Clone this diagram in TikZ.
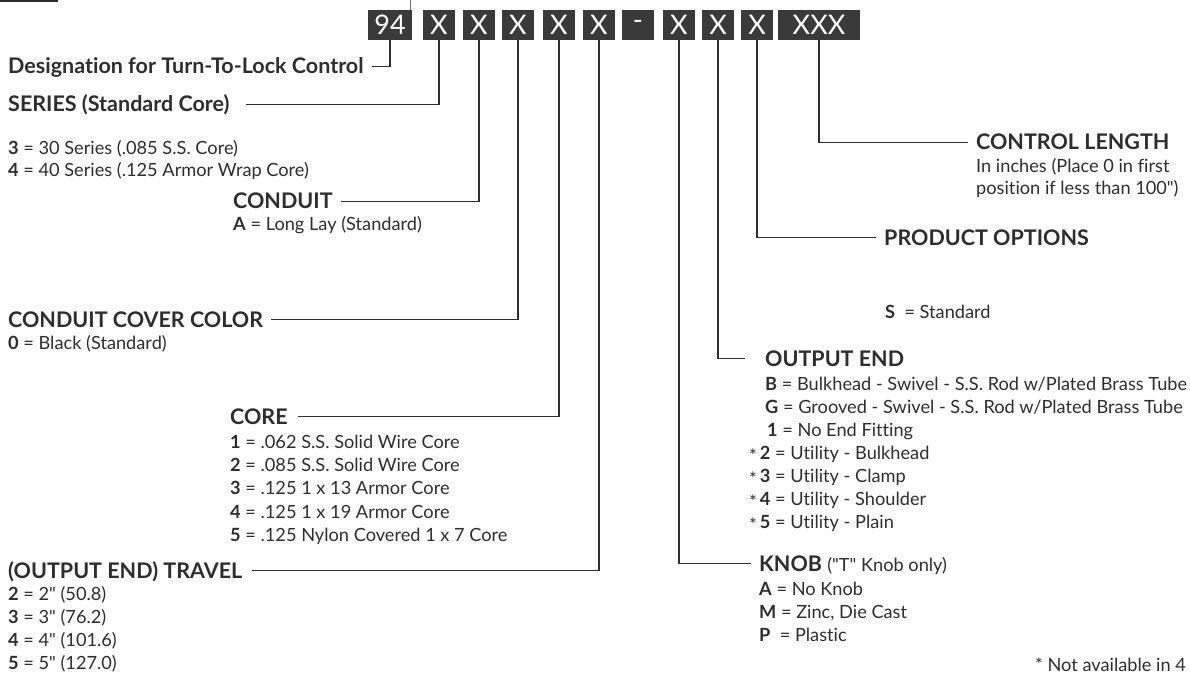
\documentclass[tikz,border=0pt]{standalone}
\usepackage{fontspec}
\setmainfont{Lato}[Ligatures={TeXOff,CommonOff}]
\definecolor{ink}{HTML}{2E2E2E}
\definecolor{boxc}{HTML}{3A3A3A}
\newcommand\mkline[5]{\node[#1] (#2) at (#3,#4) {#5};}
\newcommand\st{\raisebox{-3pt}{*}\,}
\newcommand\bodyf{\fontsize{18.2}{23}\selectfont}
\tikzset{
  hd/.style={font=\bfseries\fontsize{21.5}{26}\selectfont, text=ink, inner sep=0pt, anchor=base west, text height=15pt, text depth=0pt},
  tx/.style={font=\bodyf, text=ink, inner sep=0pt, anchor=base west},
  cbox/.style={fill=boxc, text=white, font=\fontsize{27}{27}\selectfont, minimum height=30pt, inner sep=0pt},
  conn/.style={draw=ink, line width=1.6pt},
}
\begin{document}
\begin{tikzpicture}[x=1pt,y=-1pt]
\useasboundingbox (0,0) rectangle (1190,676);
\clip (0,0) rectangle (1190,676);
% top artefacts
\draw[line width=3pt, draw=ink] (0,1) -- (58,1);
\draw[line width=1pt, draw=ink!70] (410,0) -- (410,10);
% code boxes
\node[cbox, minimum width=44pt] (b0) at (390,25) {94};
\node[cbox, minimum width=32pt] (b1) at (439,25) {X};
\node[cbox, minimum width=32pt] (b2) at (479,25) {X};
\node[cbox, minimum width=32pt] (b3) at (518,25) {X};
\node[cbox, minimum width=32pt] (b4) at (559,25) {X};
\node[cbox, minimum width=32pt] (b5) at (599,25) {X};
\node[cbox, minimum width=32pt] (bd) at (638,25) {-};
\node[cbox, minimum width=32pt] (b6) at (679,25) {X};
\node[cbox, minimum width=32pt] (b7) at (718,25) {X};
\node[cbox, minimum width=32pt] (b8) at (757,25) {X};
\node[cbox, minimum width=82pt] (b9) at (819,25) {XXX};
% left side
\mkline{hd}{desig}{8}{74}{Designation for Turn-To-Lock Control}
\mkline{hd}{series}{8}{112}{SERIES (Standard Core)}
\mkline{tx}{s3}{8}{155}{\textbf{3} = 30 Series (.085 S.S. Core)}
\mkline{tx}{s4}{8}{177}{\textbf{4} = 40 Series (.125 Armor Wrap Core)}
\mkline{hd}{conduit}{233}{209}{CONDUIT}
\mkline{tx}{ca}{233}{231}{\textbf{A} = Long Lay (Standard)}
\mkline{hd}{cover}{8}{327}{CONDUIT COVER COLOR}
\mkline{tx}{c0}{8}{349}{\textbf{0} = Black (Standard)}
\mkline{hd}{core}{230}{424}{CORE}
\mkline{tx}{k1}{230}{448}{\textbf{1} = .062 S.S. Solid Wire Core}
\mkline{tx}{k2}{230}{471}{\textbf{2} = .085 S.S. Solid Wire Core}
\mkline{tx}{k3}{230}{494}{\textbf{3} = .125 1 x 13 Armor Core}
\mkline{tx}{k4}{230}{518}{\textbf{4} = .125 1 x 19 Armor Core}
\mkline{tx}{k5}{230}{541}{\textbf{5} = .125 Nylon Covered 1 x 7 Core}
\mkline{hd}{travel}{8}{578}{(OUTPUT END) TRAVEL}
\mkline{tx}{t2}{8}{600}{\textbf{2} = 2" (50.8)}
\mkline{tx}{t3}{8}{623}{\textbf{3} = 3" (76.2)}
\mkline{tx}{t4}{8}{646}{\textbf{4} = 4" (101.6)}
\mkline{tx}{t5}{8}{669}{\textbf{5} = 5" (127.0)}
% right side
\mkline{hd}{knob}{759}{571}{KNOB \mdseries\bodyf ("T" Knob only)}
\mkline{tx}{na}{759}{595}{\textbf{A} = No Knob}
\mkline{tx}{nm}{759}{618}{\textbf{M} = Zinc, Die Cast}
\mkline{tx}{np}{759}{641}{\textbf{P}\ \ = Plastic}
\mkline{hd}{outend}{765}{366}{OUTPUT END}
\mkline{tx}{ob}{765}{390}{\textbf{B} = Bulkhead - Swivel - S.S. Rod w/Plated Brass Tube}
\mkline{tx}{og}{765}{413}{\textbf{G} = Grooved - Swivel - S.S. Rod w/Plated Brass Tube}
\mkline{tx}{oi}{767}{436}{\textbf{1} = No End Fitting}
\mkline{tx}{o2}{749}{459}{\st\textbf{2} = Utility - Bulkhead}
\mkline{tx}{o3}{749}{482}{\st\textbf{3} = Utility - Clamp}
\mkline{tx}{o4}{749}{505}{\st\textbf{4} = Utility - Shoulder}
\mkline{tx}{o5}{749}{528}{\st\textbf{5} = Utility - Plain}
\mkline{hd}{prod}{884}{245}{PRODUCT OPTIONS}
\mkline{tx}{ps}{885}{318}{\textbf{S}\ \ = Standard}
\mkline{hd}{ctrl}{976}{150}{CONTROL LENGTH}
\mkline{tx}{cl1}{976}{173}{In inches (Place 0 in first}
\mkline{tx}{cl2}{976}{195}{position if less than 100")}
\mkline{tx}{nav}{1035}{671}{* Not available in 4}
% connectors
\draw[conn] (b0.south) |- ([xshift=8]desig.east);
\draw[conn] (b1.south) |- ([xshift=16]series.east);
\draw[conn] (b2.south) |- ([xshift=8]conduit.east);
\draw[conn] (b3.south) |- ([xshift=8]cover.east);
\draw[conn] (b4.south) |- ([xshift=10]core.east);
\draw[conn] (b5.south) |- ([xshift=10]travel.east);
\draw[conn] (b6.south) |- ([xshift=-8]knob.west);
\draw[conn] (b7.south) |- ([xshift=-20]outend.west);
\draw[conn] (b8.south) |- ([xshift=-8]prod.west);
\draw[conn] (b9.south) |- ([xshift=-8]ctrl.west);
\end{tikzpicture}
\end{document}
